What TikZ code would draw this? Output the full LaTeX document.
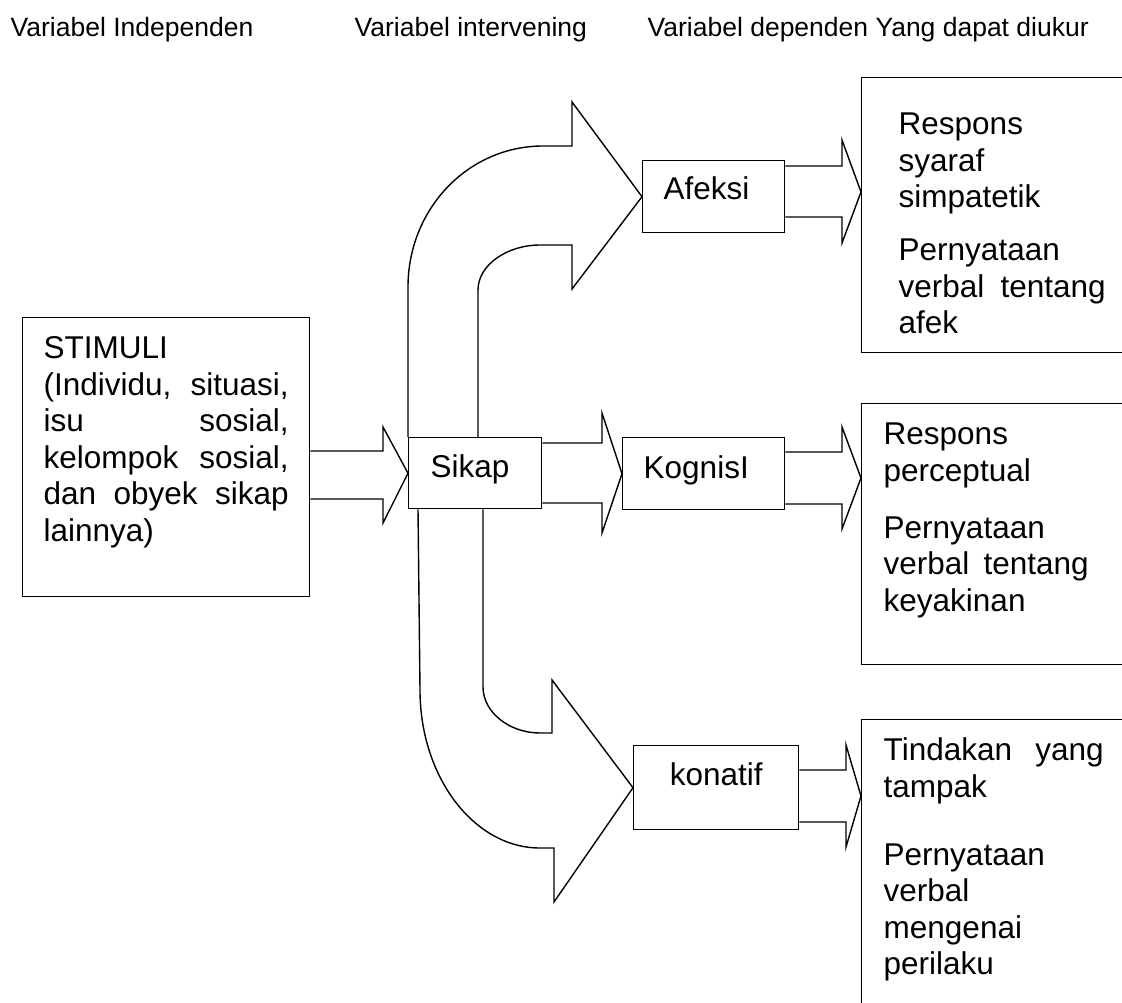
\documentclass[tikz,border=0pt]{standalone}
\usepackage{fontspec}
\setmainfont{Liberation Sans}
\usepackage{tikz}
\usetikzlibrary{calc}

\newcommand{\bodyfont}{\fontsize{31.5}{36.5}\selectfont}
\newcommand{\headfont}{\fontsize{26.5}{31}\selectfont}

\begin{document}
\begin{tikzpicture}[
  x=1pt,
  y=-1pt,
  line width=1.4pt,
  varbox/.style={
    draw,
    anchor=north west,
    line width=1.4pt,
    inner ysep=0pt,
    inner xsep=21pt,
    align=left,
    font=\bodyfont
  },
  headlabel/.style={
    anchor=base west,
    inner sep=0pt,
    font=\headfont
  },
  blockline/.style={line width=1.4pt, line join=miter}
]
  \useasboundingbox (0,0) rectangle (1122,1003);

  % Column headings.
  \node[headlabel] (hindep) at (10,37) {Variabel Independen};
  \node[headlabel] (hinter) at (354,37) {Variabel intervening};
  \node[headlabel] (hdep) at (647,37) {Variabel dependen Yang dapat diukur};

  % Stimulus and attitude.
  \node[varbox, text width=245pt, text height=41pt, text depth=238pt] (stimuli) at (22,317)
    {STIMULI\\(Individu,\hfill situasi,\\isu\hfill sosial,\\kelompok\hfill sosial,\\dan\hfill obyek\hfill sikap\\lainnya)};
  \node[varbox, text width=89pt, inner xsep=22pt, text height=40pt, text depth=31pt] (sikap) at (408,437) {Sikap};

  % Attitude components.
  \node[varbox, text width=100pt, text height=39pt, text depth=33pt] (afeksi) at (642,160) {Afeksi};
  \node[varbox, text width=120pt, text height=41pt, text depth=31pt] (kognisi) at (622,437) {KognisI};
  \node[varbox, text width=123pt, text height=40pt, text depth=44pt, align=center] (konatif) at (633,745) {konatif};

  % Measurable responses (right edges run off the page).
  \node[varbox, text width=260pt, inner xsep=37pt, text height=57pt, text depth=218pt] (resp1) at (861,77)
    {Respons\\syaraf\\simpatetik\\[16.5pt]Pernyataan\\\makebox[207pt][l]{verbal\hfill tentang}\\afek};
  \node[varbox, text width=260pt, inner xsep=22pt, text height=41pt, text depth=220pt] (resp2) at (861,403)
    {Respons\\perceptual\\[20.5pt]Pernyataan\\\makebox[205pt][l]{verbal\hfill tentang}\\keyakinan};
  \node[varbox, text width=260pt, inner xsep=22pt, text height=41pt, text depth=290pt] (resp3) at (861,719)
    {\makebox[220pt][l]{Tindakan\hfill yang}\\tampak\\[31.5pt]Pernyataan\\verbal\\mengenai\\perilaku};

  % Straight block arrows.
  \draw[blockline] (stimuli.east |- 0,451) -- (383,451) -- (383,427) -- (sikap.west)
    -- (383,523) -- (383,499) -- (stimuli.east |- 0,499);
  \draw[blockline] (sikap.east |- 0,443) -- (602,443) -- (602,413) -- (kognisi.west)
    -- (602,533) -- (602,503) -- (sikap.east |- 0,503);
  \draw[blockline] (afeksi.east |- 0,166) -- (842,166) -- (842,140) -- (resp1.west |- 0,192)
    -- (842,243) -- (842,217) -- (afeksi.east |- 0,217);
  \draw[blockline] (kognisi.east |- 0,452) -- (842,452) -- (842,427) -- (resp2.west |- 0,478)
    -- (842,529) -- (842,504) -- (kognisi.east |- 0,504);
  \draw[blockline] (konatif.east |- 0,770) -- (846,770) -- (846,745) -- (resp3.west |- 0,796)
    -- (846,847) -- (846,822) -- (konatif.east |- 0,822);

  % Curved block arrow up to Afeksi.
  \draw[blockline] (sikap.north west) -- (408,287)
    .. controls (408,209) and (468,146) .. (543,146) -- (572,146) -- (572,102)
    -- (afeksi.west) -- (572,289) -- (572,245) -- (540,245)
    .. controls (507,245) and (478,265) .. (478,290) -- (478,0 |- sikap.north);

  % Curved block arrow down to konatif.
  \draw[blockline] (418,0 |- sikap.south) -- (420,690)
    .. controls (420,777) and (474,848) .. (540,848) -- (554,848) -- (554,902)
    -- (konatif.west) -- (552,680) -- (552,733) -- (540,733)
    .. controls (509,733) and (483,712) .. (483,687) -- (483,0 |- sikap.south);
\end{tikzpicture}
\end{document}
